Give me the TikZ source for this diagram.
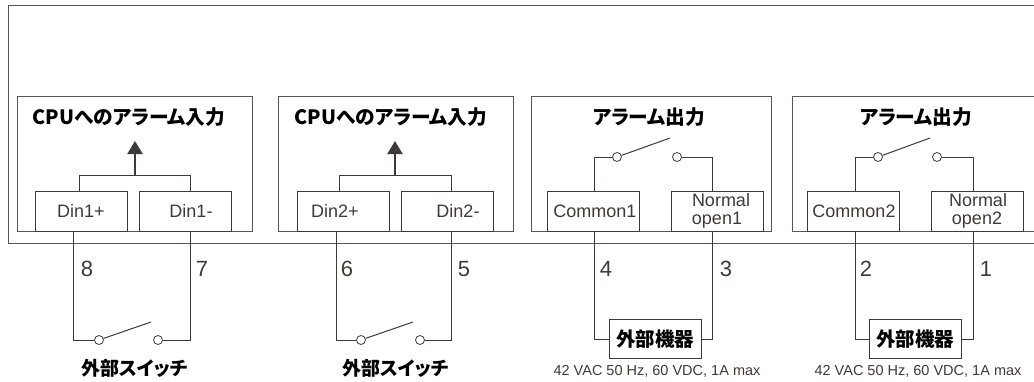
\documentclass[tikz,border=0pt]{standalone}
\usepackage{fontspec}
\setmainfont{Liberation Sans}
\newfontfamily\jpfont{Noto Sans CJK JP}[RawFeature=+palt]
\usetikzlibrary{positioning}
\usetikzlibrary{arrows.meta}
\definecolor{ink}{HTML}{3E3A39}
\definecolor{edge}{HTML}{5A5655}
\tikzset{%
	>={Triangle[width=15pt,length=13pt]},
	% Specifications for style of nodes:
	base/.style = {rectangle, draw=ink, line width=1pt, fill=white, inner sep=0pt, text=ink, font=\fontsize{18}{18}\selectfont},
	outer/.style = {base, draw=edge, anchor=north west, minimum width=1100pt, minimum height=238pt},
	panel/.style = {base, draw=edge, anchor=north west, minimum height=135pt},
	pinbox/.style = {base, minimum width=92pt, minimum height=40pt, align=center},
	devbox/.style = {base, minimum width=92pt, minimum height=39pt, font=\jpfont\bfseries\fontsize{19.5}{20}\selectfont, text=black},
	contact/.style = {circle, draw=ink, line width=0.8pt, fill=white, minimum size=9pt, inner sep=0pt},
	wire/.style = {draw=ink, line width=1pt},
	title/.style = {text=black, inner sep=0pt, font=\jpfont\bfseries\fontsize{19.7}{20}\selectfont},
	pinno/.style = {text=ink, inner sep=0pt, font=\fontsize{22}{22}\selectfont},
	spec/.style = {text=ink, inner sep=0pt, font=\fontsize{14.5}{15}\selectfont},
}

\begin{document}
\begin{tikzpicture}[x=1pt,y=-1pt]
		\useasboundingbox (0,0) rectangle (1034,381);
		\clip (0,0) rectangle (1034,381);
		
		\node (Case) [outer] at (8,5) {};
		
		\node (Panel1) [panel,minimum width=235pt] at (17,96) {};
		\node (Panel2) [panel,minimum width=235pt] at (278,96) {};
		\node (Panel3) [panel,minimum width=240pt] at (531,96) {};
		\node (Panel4) [panel,minimum width=260pt] at (792,96) {};
		
		\node (Title1) [title] at (129,117) {CPUへのアラーム入力};
		\node (Title2) [title] at (391,117) {CPUへのアラーム入力};
		\node (Title3) [title] at (649,117) {アラーム出力};
		\node (Title4) [title] at (916,117) {アラーム出力};
		
		\node (Din1p) [pinbox] at (81,211) {Din1+};
		\node (Din1m) [pinbox,right=11pt of Din1p] {\hspace*{12pt}Din1-};
		\node (Din2p) [pinbox] at (343,211) {Din2+\hspace*{16pt}};
		\node (Din2m) [pinbox,right=11pt of Din2p] {\hspace*{22pt}Din2-};
		\node (Com1) [pinbox] at (593,211) {\hspace*{4pt}Common1};
		\node (Nop1) [pinbox,right=31pt of Com1] {\hspace*{8pt}Normal\\open1};
		\node (Com2) [pinbox] at (853,211) {\hspace*{2pt}Common2};
		\node (Nop2) [pinbox,right=31pt of Com2] {\hspace*{2pt}Normal\\open2};
		
		% input side
		\coordinate (Join1) at (135,175);
		\coordinate (Up1) at (135,141);
		\coordinate (Join2) at (395,175);
		\coordinate (Up2) at (395,141);
		\draw [wire] ([xshift=-2pt]Din1p.north) |- (Join1);
		\draw [wire] ([xshift=5pt]Din1m.north) |- (Join1);
		\draw [wire] ([xshift=-4pt]Din2p.north) |- (Join2);
		\draw [wire] ([xshift=4pt]Din2m.north) |- (Join2);
		\draw [draw=ink,line width=2pt,->] (Join1) -- (Up1);
		\draw [draw=ink,line width=2pt,->] (Join2) -- (Up2);
		
		% output side contacts
		\node (Sw3a) [contact] at (617,157) {};
		\node (Sw3b) [contact] at (677,157) {};
		\node (Sw4a) [contact] at (878,157) {};
		\node (Sw4b) [contact] at (937,157) {};
		\coordinate (Tip3) at (670,138);
		\coordinate (Tip4) at (930,138);
		\draw [wire] ([xshift=1pt]Com1.north) |- (Sw3a);
		\draw [wire] ([xshift=-5pt]Nop1.north) |- (Sw3b);
		\draw [wire] ([xshift=2pt]Com2.north) |- (Sw4a);
		\draw [wire] ([xshift=-4pt]Nop2.north) |- (Sw4b);
		\draw [wire] (Sw3a) -- (Tip3);
		\draw [wire] (Sw4a) -- (Tip4);
		
		% external switches
		\node (Sw1a) [contact] at (99,340) {};
		\node (Sw1b) [contact] at (158,340) {};
		\node (Sw2a) [contact] at (361,340) {};
		\node (Sw2b) [contact] at (420,340) {};
		\coordinate (Tip1) at (151,322);
		\coordinate (Tip2) at (413,322);
		\draw [wire] ([xshift=-8pt]Din1p.south) |- (Sw1a);
		\draw [wire] ([xshift=5pt]Din1m.south) |- (Sw1b);
		\draw [wire] ([xshift=-7pt]Din2p.south) |- (Sw2a);
		\draw [wire] ([xshift=4pt]Din2m.south) |- (Sw2b);
		\draw [wire] (Sw1a) -- (Tip1);
		\draw [wire] (Sw2a) -- (Tip2);
		\node (Ext1) [title,font=\jpfont\bfseries\fontsize{19}{19}\selectfont] at (135,368) {外部スイッチ};
		\node (Ext2) [title,font=\jpfont\bfseries\fontsize{19}{19}\selectfont] at (396,368) {外部スイッチ};
		
		% external devices
		\node (Dev1) [devbox] at (655,339) {外部機器};
		\node (Dev2) [devbox] at (915,339) {外部機器};
		\draw [wire] ([xshift=1pt]Com1.south) |- (Dev1);
		\draw [wire] ([xshift=-5pt]Nop1.south) |- (Dev1);
		\draw [wire] ([xshift=2pt]Com2.south) |- (Dev2);
		\draw [wire] ([xshift=-4pt]Nop2.south) |- (Dev2);
		\node (Spec1) [spec] at (657,371) {42 VAC 50 Hz, 60 VDC, 1A max};
		\node (Spec2) [spec] at (918,371) {42 VAC 50 Hz, 60 VDC, 1A max};
		
		% terminal numbers
		\node (No8) [pinno] at (87,269) {8};
		\node (No7) [pinno] at (202,269) {7};
		\node (No6) [pinno] at (347,269) {6};
		\node (No5) [pinno] at (464,269) {5};
		\node (No4) [pinno] at (606,269) {4};
		\node (No3) [pinno] at (726,269) {3};
		\node (No2) [pinno] at (866,269) {2};
		\node (No1) [pinno] at (986,269) {1};
		
     \end{tikzpicture}
\end{document}
